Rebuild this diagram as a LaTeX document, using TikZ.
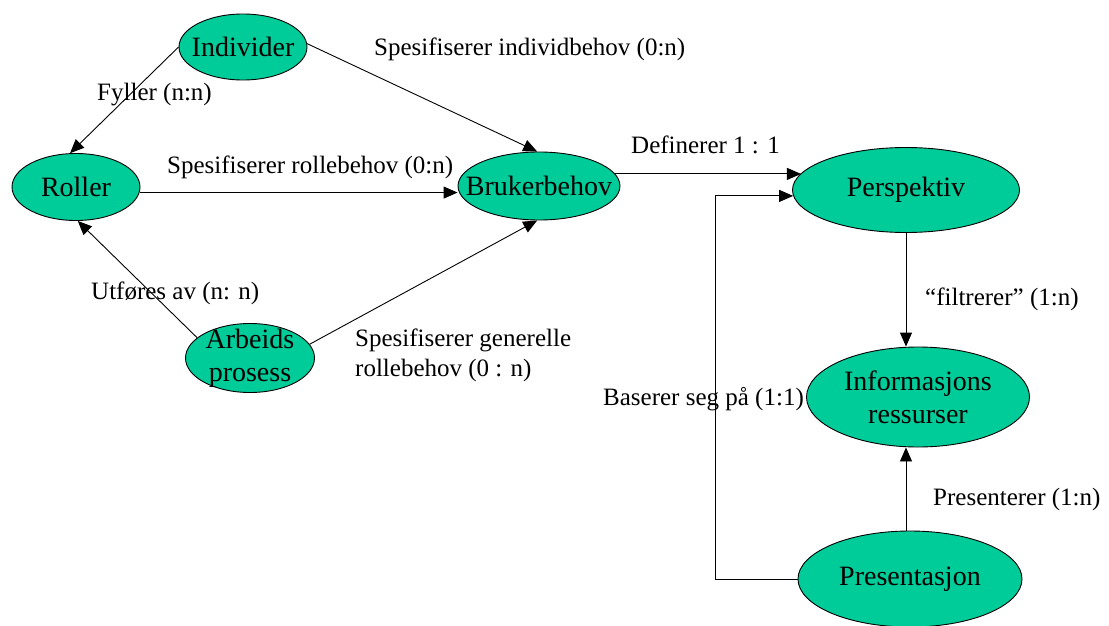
\documentclass[tikz,border=0pt]{standalone}
\usepackage{fontspec}
\setmainfont{Liberation Serif}
\usetikzlibrary{shapes.geometric,arrows.meta}
\definecolor{entfill}{HTML}{00CC99}
\tikzset{
  ent/.style={ellipse, draw=black, line width=0.9pt, fill=entfill, inner sep=0pt},
  etxt/.style={font=\fontsize{28}{33}\selectfont, align=center, inner sep=0pt},
  rel/.style={font=\fontsize{25}{30}\selectfont, anchor=west, inner sep=0pt,
              text height=17pt, text depth=5pt},
  conn/.style={line width=0.9pt, -{Triangle[length=14pt,width=12pt]}},
}
\begin{document}
\begin{tikzpicture}[x=1pt,y=1pt]
\path[use as bounding box] (0,0) rectangle (1109,-626);

% entities
\node[ent, minimum width=128, minimum height=66,
      label={[etxt]center:Individer}] (ind) at (243,-47) {};
\node[ent, minimum width=128, minimum height=67,
      label={[etxt]center:Roller}] (rol) at (76,-187) {};
\node[ent, minimum width=162, minimum height=68,
      label={[etxt]center:Brukerbehov}] (bru) at (539,-186) {};
\node[ent, minimum width=129, minimum height=69,
      label={[etxt]center:Arbeids\\prosess}] (arb) at (250,-358) {};
\node[ent, minimum width=227, minimum height=85,
      label={[etxt]center:Perspektiv}] (per) at (906,-190) {};
\node[ent, minimum width=223, minimum height=100,
      label={[etxt]center:Informasjons\\ressurser}] (inf) at (918,-397) {};
\node[ent, minimum width=224, minimum height=96,
      label={[etxt]center:Presentasjon}] (pre) at (910,-579) {};
\coordinate (loopx) at (715,0);

% relations
\draw[conn] (ind.west) -- (rol.100);
\draw[conn] (ind.3) -- (bru.93);
\draw[conn] (rol.-5) -- (rol.-5 -| bru.west);
\draw[conn] (arb.159) -- (rol.-87);
\draw[conn] (arb.13) -- (bru.-93);
\draw[conn] (bru.9) -- (bru.9 -| per.171);
\draw[conn] (per.south) -- (per.south |- inf.north);
\draw[conn] (pre.north -| per.south) -- (per.south |- inf.south);
\draw[conn] (pre.west) -- (pre.west -| loopx) |- (per.183);

% relation labels
\node[rel] (l1) at (374,-50) {Spesifiserer individbehov (0:n)};
\node[rel] (l2) at (97,-94) {Fyller (n:n)};
\node[rel] (l3) at (167,-167) {Spesifiserer rollebehov (0:n)};
\node[rel] (l4) at (631,-147) {Definerer 1 : 1};
\node[rel] (l5) at (91,-293) {Utføres av (n: n)};
\node[rel, text height=, text depth=, align=left] (l6) at (355,-355)
  {Spesifiserer generelle\\rollebehov (0 : n)};
\node[rel] (l7) at (925,-299) {“filtrerer” (1:n)};
\node[rel] (l8) at (603,-399) {Baserer seg på (1:1)};
\node[rel] (l9) at (933,-499) {Presenterer (1:n)};
\end{tikzpicture}
\end{document}
